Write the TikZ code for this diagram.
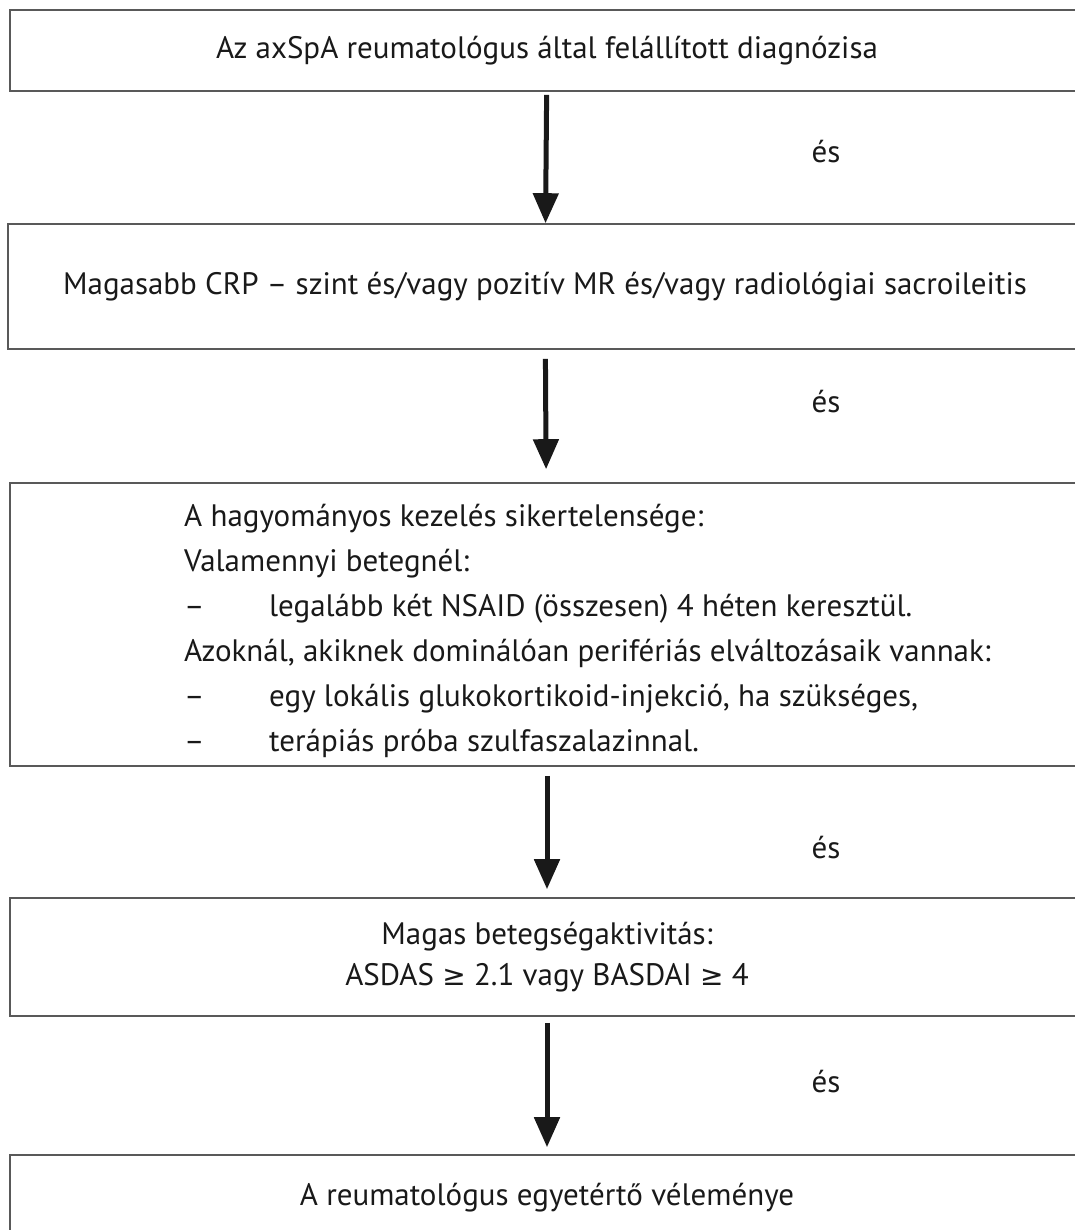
\documentclass[tikz,border=0pt]{standalone}
\usepackage{fontspec}
\setmainfont{PT Sans}
\newfontfamily\symfont{DejaVu Sans}
\usetikzlibrary{arrows.meta}
\tikzset{
  box/.style={draw=black!65,line width=1.6pt,minimum width=1074pt,inner sep=0pt,align=center},
  flow/.style={line width=5pt,-{Triangle[width=25pt,length=30pt]}},
  es/.style={inner sep=0pt},
}
\newcommand{\dashitem}{\makebox[85pt][l]{--}}
\newcommand{\gejel}{{\symfont\fontsize{28}{40}\selectfont ≥}}
\begin{document}
\begin{tikzpicture}[x=1pt,y=-1pt,font=\fontsize{31}{41}\selectfont,color=black!90]
  \useasboundingbox (0,0) rectangle (1074,1230);
  % dobozok
  \node[box,minimum height=81pt] (b1) at (547,50.5)
    {Az axSpA reumatológus által felállított diagnózisa};
  \node[box,minimum height=125pt] (b2) at (545,286.5)
    {Magasabb CRP -- szint és/vagy pozitív MR és/vagy radiológiai sacroileitis};
  \node[box,minimum height=283pt] (b3) at (547,624.5) {};
  \node[anchor=west,align=left,inner sep=0pt,font=\fontsize{31}{45}\selectfont] (t3) at (184,631)
    {A hagyományos kezelés sikertelensége:\\
     Valamennyi betegnél:\\
     \dashitem legalább két NSAID (összesen) 4 héten keresztül.\\
     Azoknál, akiknek dominálóan perifériás elváltozásaik vannak:\\
     \dashitem egy lokális glukokortikoid-injekció, ha szükséges,\\
     \dashitem terápiás próba szulfaszalazinnal.};
  \node[box,minimum height=118pt] (b4) at (547,957)
    {Magas betegségaktivitás:\\ ASDAS \gejel{} 2.1 vagy BASDAI \gejel{} 4};
  \node[box,minimum height=86pt] (b5) at (547,1198)
    {A reumatológus egyetértő véleménye};
  % nyilak
  \draw[flow,shorten <=3pt] (b1) -- (b2);
  \draw[flow,shorten <=9pt,shorten >=13pt] (b2) -- (b3);
  \draw[flow,shorten <=9pt,shorten >=8pt] (b3) -- (b4);
  \draw[flow,shorten <=6pt,shorten >=7pt] (b4) -- (b5);
  % és
  \path
    (826,152) node[es] (e1) {és}
    (826,402) node[es] (e2) {és}
    (826,848) node[es] (e3) {és}
    (826,1082) node[es] (e4) {és};
\end{tikzpicture}
\end{document}
